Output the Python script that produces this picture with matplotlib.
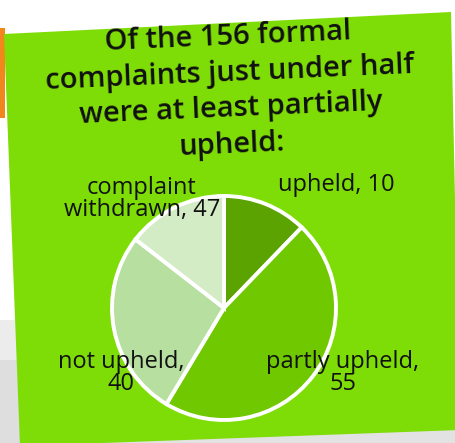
import matplotlib
matplotlib.use("Agg")
import matplotlib.pyplot as plt
from matplotlib.patches import Polygon, Rectangle

# ---- data ----
categories = ["upheld", "partly upheld", "not upheld", "complaint withdrawn"]
label_counts = [10, 55, 40, 47]                 # numbers printed in labels
slice_shares = [12.2, 46.4, 26.9, 14.5]         # slice sizes as drawn (%)
slice_colors = ["#5BA300", "#70C800", "#B6DFA0", "#D4ECC6"]
label_texts = ["upheld, 10", "partly upheld,\n55", "not upheld,\n40",
               "complaint\nwithdrawn, 47"]
title_text = "Of the 156 formal\ncomplaints just under half\nwere at least partially\nupheld:"

W, H = 456, 443
fig = plt.figure(figsize=(W / 100, H / 100), dpi=100)
ax = fig.add_axes([0, 0, 1, 1])
fig.patch.set_facecolor("white")

def Y(y):
    return H - y

# shadow areas
ax.add_patch(Polygon([(0, Y(320)), (18, Y(320)), (22, Y(443)), (0, Y(443))],
                     closed=True, facecolor="#ececec", edgecolor="none", zorder=0))
ax.add_patch(Polygon([(0, Y(360)), (18, Y(360)), (22, Y(443)), (0, Y(443))],
                     closed=True, facecolor="#dedede", edgecolor="none", zorder=0))
ax.add_patch(Polygon([(20, Y(443)), (456, Y(429)), (456, Y(443))],
                     closed=True, facecolor="#e2e2e2", edgecolor="none", zorder=0))
# orange strip
ax.add_patch(Rectangle((0, Y(118)), 5, 90, facecolor="#F0861C", edgecolor="none", zorder=0))
# green note
ax.add_patch(Polygon([(4, Y(34)), (451, Y(12)), (460, Y(430)), (20, Y(446))],
                     closed=True, facecolor="#7EDD06", edgecolor="none", zorder=1))

font = ["Open Sans", "DejaVu Sans"]

ax.text(230, Y(91), title_text, ha="center", va="center", fontsize=21,
        family=font, color="#111111", linespacing=1.32, rotation=2.5,
        fontweight="semibold", zorder=3)

# pie
cx, cy, r = 224, Y(308), 112
ax.pie(slice_shares, colors=slice_colors, startangle=90, counterclock=False,
       center=(cx, cy), radius=r, frame=True,
       wedgeprops=dict(edgecolor="white", linewidth=2.8))
ax.set_xlim(0, W)
ax.set_ylim(0, H)
ax.set_aspect("auto")
ax.axis("off")

label_pos = [(336, 185), (343, 373), (121, 373), (142, 199)]
for txt, (lx, ly) in zip(label_texts, label_pos):
    ax.text(lx, Y(ly), txt, ha="center", va="center", fontsize=17,
            family=font, color="#111111", linespacing=0.92, zorder=5)

fig.savefig("out.png", dpi=100, facecolor="white")
